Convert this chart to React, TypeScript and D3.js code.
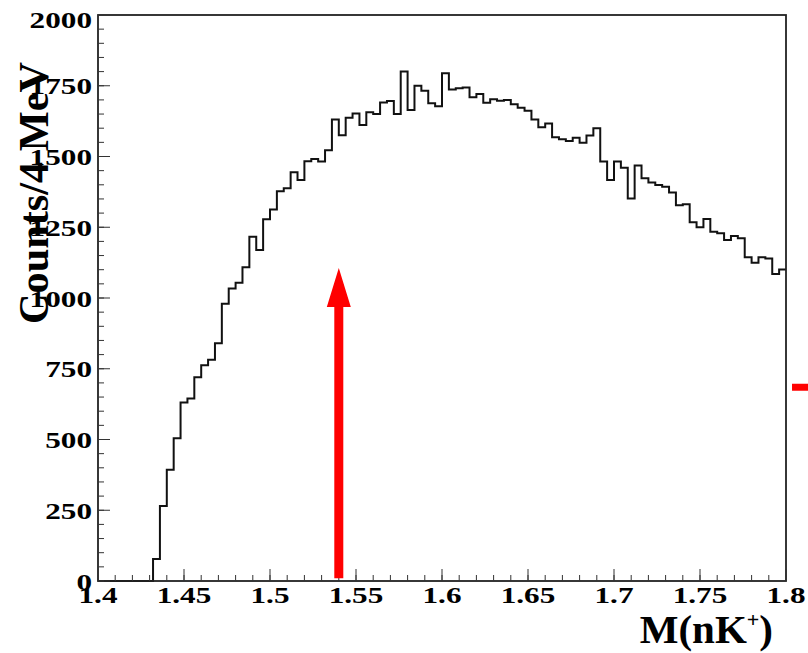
import React, { useEffect, useRef } from "react";
import * as d3 from "d3";

// 4 MeV bins from 1.4 to 1.8
const binLow = 1.4;
const binWidth = 0.004;
const counts = [
  0, 0, 0, 0, 0, 0, 0, 0,
  78, 265, 393, 504, 631, 645, 720, 762, 782, 840,
  980, 1034, 1054, 1109, 1216, 1170, 1278, 1313, 1377, 1388,
  1444, 1417, 1483, 1491, 1482, 1522, 1631, 1575, 1637, 1652,
  1611, 1656, 1650, 1691, 1696, 1650, 1800, 1664, 1750, 1732,
  1688, 1678, 1794, 1737, 1741, 1744, 1709, 1721, 1690, 1702,
  1697, 1700, 1685, 1672, 1662, 1631, 1603, 1617, 1568, 1561,
  1555, 1566, 1549, 1574, 1600, 1482, 1417, 1482, 1460, 1352,
  1468, 1423, 1408, 1399, 1393, 1373, 1328, 1331, 1268, 1250,
  1279, 1234, 1229, 1205, 1219, 1211, 1144, 1125, 1144, 1140,
  1085, 1101,
];

const xTickValues = [1.4, 1.45, 1.5, 1.55, 1.6, 1.65, 1.7, 1.75, 1.8];
const xTickLabels = ["1.4", "1.45", "1.5", "1.55", "1.6", "1.65", "1.7", "1.75", "1.8"];
const yTickValues = [0, 250, 500, 750, 1000, 1250, 1500, 1750, 2000];
const yTickLabels = ["0", "250", "500", "750", "1000", "1250", "1500", "1750", "2000"];
const xMinorStep = 0.01;
const yMinorStep = 50;

// red arrow marking the threshold
const arrowX = 1.54;
const arrowBottom = 10;
const arrowHeadBase = 968;
const arrowTop = 1106;

// red dash cut off at the right edge
const dashY = 685;
const dashX = [1.8035, 1.83];

const App = () => {
  const svgRef = useRef(null);

  useEffect(() => {
    const width = 808;
    const height = 653;
    const font = "'Liberation Serif', 'Times New Roman', serif";

    const svg = d3.select(svgRef.current).attr("width", width).attr("height", height);
    svg.selectAll("*").remove();

    const x = d3.scaleLinear().domain([1.4, 1.8]).range([98, 786]);
    const y = d3.scaleLinear().domain([0, 2000]).range([581, 15]);

    // histogram outline
    const pts = counts.map((c, i) => [binLow + i * binWidth, c]);
    pts.push([binLow + counts.length * binWidth, counts[counts.length - 1]]);
    const line = d3
      .line()
      .x((d) => x(d[0]))
      .y((d) => y(d[1]))
      .curve(d3.curveStepAfter);
    svg
      .append("path")
      .attr("d", line(pts))
      .attr("fill", "none")
      .attr("stroke", "#111")
      .attr("stroke-width", 2);

    // frame
    svg
      .append("rect")
      .attr("x", x(1.4))
      .attr("y", y(2000))
      .attr("width", x(1.8) - x(1.4))
      .attr("height", y(0) - y(2000))
      .attr("fill", "none")
      .attr("stroke", "#222")
      .attr("stroke-width", 1.8);

    // x ticks
    const xMinor = d3.range(1.4, 1.8 + 1e-9, xMinorStep);
    svg
      .selectAll(".xminor")
      .data(xMinor)
      .join("line")
      .attr("x1", (d) => x(d))
      .attr("x2", (d) => x(d))
      .attr("y1", y(0))
      .attr("y2", y(0) - 6)
      .attr("stroke", "#333")
      .attr("stroke-width", 1);
    svg
      .selectAll(".xmajor")
      .data(xTickValues)
      .join("line")
      .attr("x1", (d) => x(d))
      .attr("x2", (d) => x(d))
      .attr("y1", y(0))
      .attr("y2", y(0) - 12)
      .attr("stroke", "#333")
      .attr("stroke-width", 1);

    // y ticks
    const yMinor = d3.range(0, 2000 + 1e-9, yMinorStep);
    svg
      .selectAll(".yminor")
      .data(yMinor)
      .join("line")
      .attr("x1", x(1.4))
      .attr("x2", x(1.4) + 6)
      .attr("y1", (d) => y(d))
      .attr("y2", (d) => y(d))
      .attr("stroke", "#333")
      .attr("stroke-width", 1);
    svg
      .selectAll(".ymajor")
      .data(yTickValues)
      .join("line")
      .attr("x1", x(1.4))
      .attr("x2", x(1.4) + 12)
      .attr("y1", (d) => y(d))
      .attr("y2", (d) => y(d))
      .attr("stroke", "#333")
      .attr("stroke-width", 1);

    // tick labels (stretched like the original)
    svg
      .selectAll(".xlab")
      .data(xTickValues)
      .join("text")
      .attr("transform", (d) => `translate(${x(d)},603) scale(1.3,1)`)
      .attr("text-anchor", "middle")
      .attr("font-family", font)
      .attr("font-weight", "bold")
      .attr("font-size", 24)
      .text((d, i) => xTickLabels[i]);

    svg
      .selectAll(".ylab")
      .data(yTickValues)
      .join("text")
      .attr("transform", (d) => `translate(92,${y(d) + 8.5 + (d === 2000 ? 4.5 : 0)}) scale(1.3,1)`)
      .attr("text-anchor", "end")
      .attr("font-family", font)
      .attr("font-weight", "bold")
      .attr("font-size", 24)
      .text((d, i) => yTickLabels[i]);

    // axis titles
    svg
      .append("text")
      .attr("transform", "translate(48,193) rotate(-90)")
      .attr("text-anchor", "middle")
      .attr("font-family", font)
      .attr("font-weight", "bold")
      .attr("font-size", 43)
      .attr("textLength", 262)
      .attr("lengthAdjust", "spacingAndGlyphs")
      .text("Counts/4 MeV");

    const xt = svg
      .append("text")
      .attr("x", 773)
      .attr("y", 643)
      .attr("text-anchor", "end")
      .attr("font-family", font)
      .attr("font-weight", "bold")
      .attr("font-size", 41);
    xt.append("tspan").text("M(nK");
    xt.append("tspan").attr("dy", -16).attr("font-size", 22).text("+");
    xt.append("tspan").attr("dy", 16).attr("font-size", 41).text(")");

    // arrow
    const cx = x(arrowX);
    const shaft = 4.5;
    const head = 12;
    const arrow = d3.path();
    arrow.moveTo(cx - shaft, y(arrowBottom));
    arrow.lineTo(cx - shaft, y(arrowHeadBase));
    arrow.lineTo(cx - head, y(arrowHeadBase));
    arrow.lineTo(cx, y(arrowTop));
    arrow.lineTo(cx + head, y(arrowHeadBase));
    arrow.lineTo(cx + shaft, y(arrowHeadBase));
    arrow.lineTo(cx + shaft, y(arrowBottom));
    arrow.closePath();
    svg.append("path").attr("d", arrow.toString()).attr("fill", "#ff0000");

    // red dash at the right edge
    svg
      .append("line")
      .attr("x1", x(dashX[0]))
      .attr("x2", x(dashX[1]))
      .attr("y1", y(dashY))
      .attr("y2", y(dashY))
      .attr("stroke", "#ff0000")
      .attr("stroke-width", 7);
  }, []);

  return (
    <div style={{ position: "absolute", left: 0, top: 0, width: 808, height: 653, background: "#fff" }}>
      <svg ref={svgRef} style={{ display: "block" }}></svg>
    </div>
  );
};

export default App;
